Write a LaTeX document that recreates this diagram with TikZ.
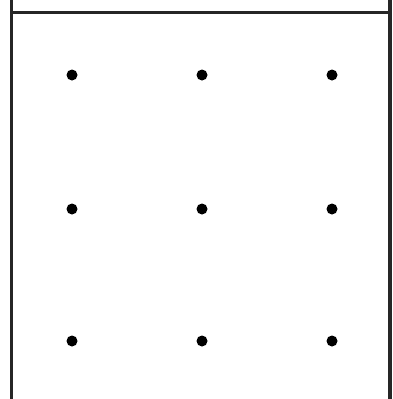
\documentclass[tikz,border=0pt]{standalone}
\begin{document}
\begin{tikzpicture}[x=1pt,y=-1pt,
  dot/.style={circle,fill=black,inner sep=0pt,minimum size=11pt},
  frame/.style={line width=3.5pt,black!85}]
\useasboundingbox (0,0) rectangle (393,399);
\fill[white] (0,0) rectangle (393,399);
\draw[frame] (11.5,0) -- (11.5,399);
\draw[frame] (390,0) -- (390,399);
\draw[frame] (11.5,12.5) -- (390,12.5);
\foreach \c [count=\i] in {72,202,332}{
  \foreach \r [count=\j] in {75,209,341}{
    \node[dot] (d\i\j) at (\c,\r) {};
  }
}
\end{tikzpicture}
\end{document}
